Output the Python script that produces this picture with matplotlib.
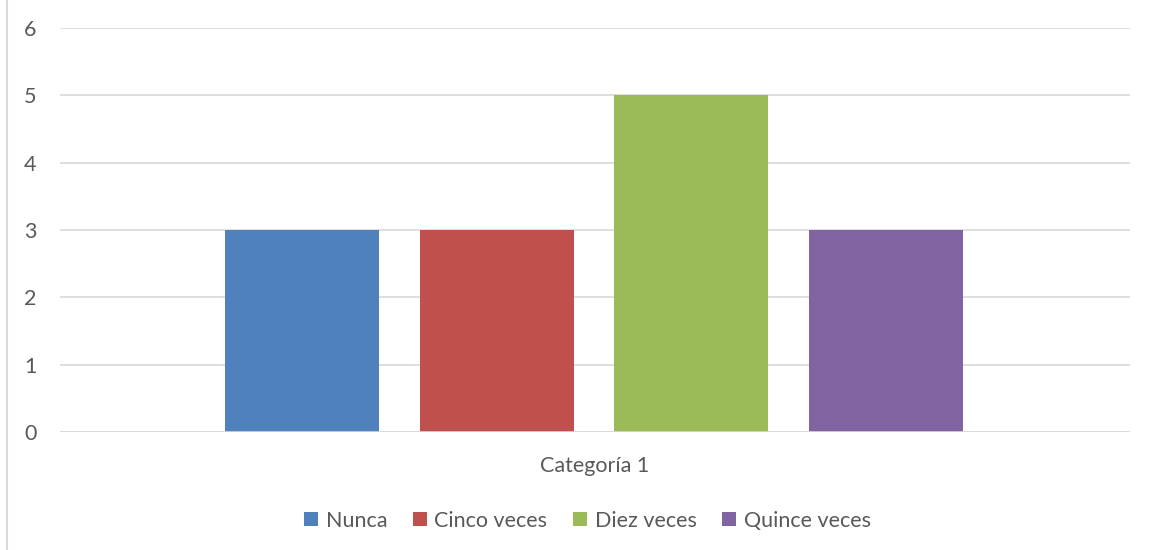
import numpy as np
import matplotlib.pyplot as plt
from matplotlib.lines import Line2D

plt.rcParams['font.family'] = ['Lato', 'DejaVu Sans']

category = 'Categoría 1'
series = ['Nunca', 'Cinco veces', 'Diez veces', 'Quince veces']
values = [3, 3, 5, 3]
colors = ['#4F81BD', '#C0504D', '#9BBB59', '#8064A2']

fig = plt.figure(figsize=(11.49, 5.5), dpi=100)
ax = fig.add_axes([0.0522, 0.2145, 0.9313, 0.7345])

step = 0.1818
width = 0.1439
offsets = (np.arange(len(series)) - (len(series) - 1) / 2) * step - 0.001
for off, v, c, name in zip(offsets, values, colors, series):
    ax.bar(off, v, width=width, color=c, label=name, zorder=3)

ax.set_xlim(-0.5, 0.5)
ax.set_ylim(0, 6)
ax.set_yticks(range(0, 7))
ax.yaxis.grid(True, color='#d9d9d9', linewidth=1.2, zorder=0)
ax.axhline(0, color='#d9d9d9', linewidth=1.2, zorder=4)
for s in ax.spines.values():
    s.set_visible(False)
ax.tick_params(axis='y', length=0, pad=17, labelsize=15.5, labelcolor='#595959')
ax.set_xticks([0])
ax.set_xticklabels([category])
ax.tick_params(axis='x', length=0, pad=17, labelsize=15.5, labelcolor='#595959')

leg = ax.legend(loc='upper center', bbox_to_anchor=(0.493, -0.147), ncol=4,
                frameon=False, handlelength=0.65, handleheight=0.65,
                handletextpad=0.35, columnspacing=1.2, fontsize=15.5)
for t in leg.get_texts():
    t.set_color('#595959')

fig.add_artist(Line2D([0.0057, 0.0057], [0, 1], color='#d9d9d9', linewidth=1.5))

fig.savefig('out.png', dpi=100)
